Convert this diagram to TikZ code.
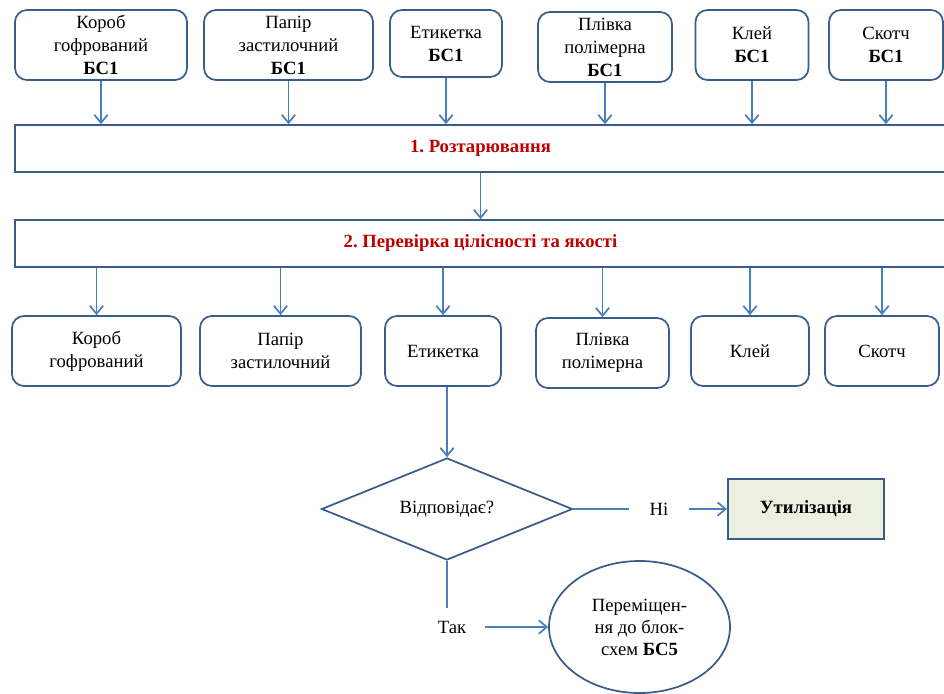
\documentclass[tikz,border=0pt]{standalone}
\usepackage{fontspec}
\setmainfont{Liberation Serif}
\usetikzlibrary{shapes.geometric,arrows.meta}
\definecolor{boxline}{RGB}{56,93,138}
\definecolor{flowline}{RGB}{74,126,187}
\definecolor{stagered}{RGB}{192,0,0}
\definecolor{wastefill}{RGB}{235,241,222}
\frenchspacing

\begin{document}
\begin{tikzpicture}[x=0.75pt, y=-0.75pt,
    item/.style={rectangle, rounded corners=9pt, draw=boxline, line width=1.3pt, align=center, inner sep=0pt, minimum height=52.5pt, font=\fontsize{14}{17.25}\selectfont},
    stage/.style={rectangle, draw=boxline, line width=1.3pt, minimum width=698.25pt, minimum height=35.25pt, inner sep=0pt, text=stagered, font=\fontsize{14}{17.25}\selectfont\bfseries},
    flow/.style={draw=flowline, line width=1.3pt, -{Straight Barb[length=6pt,width=10pt,line width=1.3pt]}},
    link/.style={draw=flowline, line width=1.3pt},
    lbl/.style={inner sep=0pt, font=\fontsize{14}{17.25}\selectfont}]
    \useasboundingbox (0,0) rectangle (944,693);

    %Incoming packaging
    \node at (101,45) [item, minimum width=129pt] (t1) {Короб\\гофрований\\\textbf{БС1}};
    \node at (288.5,45) [item, minimum width=126.75pt] (t2) {Папір\\застилочний\\\textbf{БС1}};
    \node at (446,43.5) [item, minimum width=84pt, minimum height=50.25pt] (t3) {Етикетка\\\textbf{БС1}};
    \node at (605,47) [item, minimum width=100.5pt] (t4) {Плівка\\полімерна\\\textbf{БС1}};
    \node at (752,45) [item, minimum width=84.75pt] (t5) {Клей\\\textbf{БС1}};
    \node at (886,45) [item, minimum width=85.5pt] (t6) {Скотч\\\textbf{БС1}};

    %Stages
    \node at (480.5,148.5) [stage] (s1) {1. Розтарювання};
    \node at (480.5,243.5) [stage] (s2) {2. Перевірка цілісності та якості};

    \foreach \t in {t1,t2,t3,t4,t5,t6}
        \draw[flow] (\t.south) -- (\t.south |- s1.north);
    \draw[flow] (s1.south) -- (s2.north);

    %Checked packaging
    \node at (96.5,351) [item, minimum width=126.75pt] (b1) {Короб\\гофрований};
    \node at (280.5,351) [item, minimum width=120.75pt] (b2) {Папір\\застилочний};
    \node at (443,351) [item, minimum width=87pt] (b3) {Етикетка};
    \node at (602.5,353) [item, minimum width=99.75pt] (b4) {Плівка\\полімерна};
    \node at (750,351) [item, minimum width=88.5pt] (b5) {Клей};
    \node at (882,351) [item, minimum width=85.5pt] (b6) {Скотч};

    \foreach \b in {b1,b2,b3,b4,b5,b6}
        \draw[flow] (\b.north |- s2.south) -- (\b.north);

    %Decision
    \node at (447,509) [diamond, draw=boxline, line width=1.3pt, aspect=2.5, inner sep=0pt, minimum width=188.25pt, minimum height=76.5pt, font=\fontsize{14}{17.25}\selectfont] (check) {Відповідає?};
    \draw[flow] (check.north |- b3.south) -- (check.north);

    \node at (659,509) [lbl, minimum width=45pt] (no) {Ні};
    \node at (806,509) [rectangle, draw=boxline, line width=1.6pt, fill=wastefill, minimum width=117pt, minimum height=45pt, font=\fontsize{14}{17.25}\selectfont\bfseries] (waste) {Утилізація};
    \draw[link] (check.east) -- (no.west);
    \draw[flow] (no.east) -- (waste.west);

    \node at (452,627) [lbl, minimum width=49.5pt, minimum height=28.5pt] (yes) {Так};
    \node at (639.5,627) [ellipse, draw=boxline, line width=1.3pt, inner sep=0pt, minimum width=135.75pt, minimum height=99pt, align=center, font=\fontsize{14}{16.5}\selectfont] (move) {Переміщен-\\ня до блок-\\схем \textbf{БС5}};
    \draw[link] (check.south) -- (check.south |- yes.north);
    \draw[flow] (yes.east) -- (move.west);
\end{tikzpicture}
\end{document}
